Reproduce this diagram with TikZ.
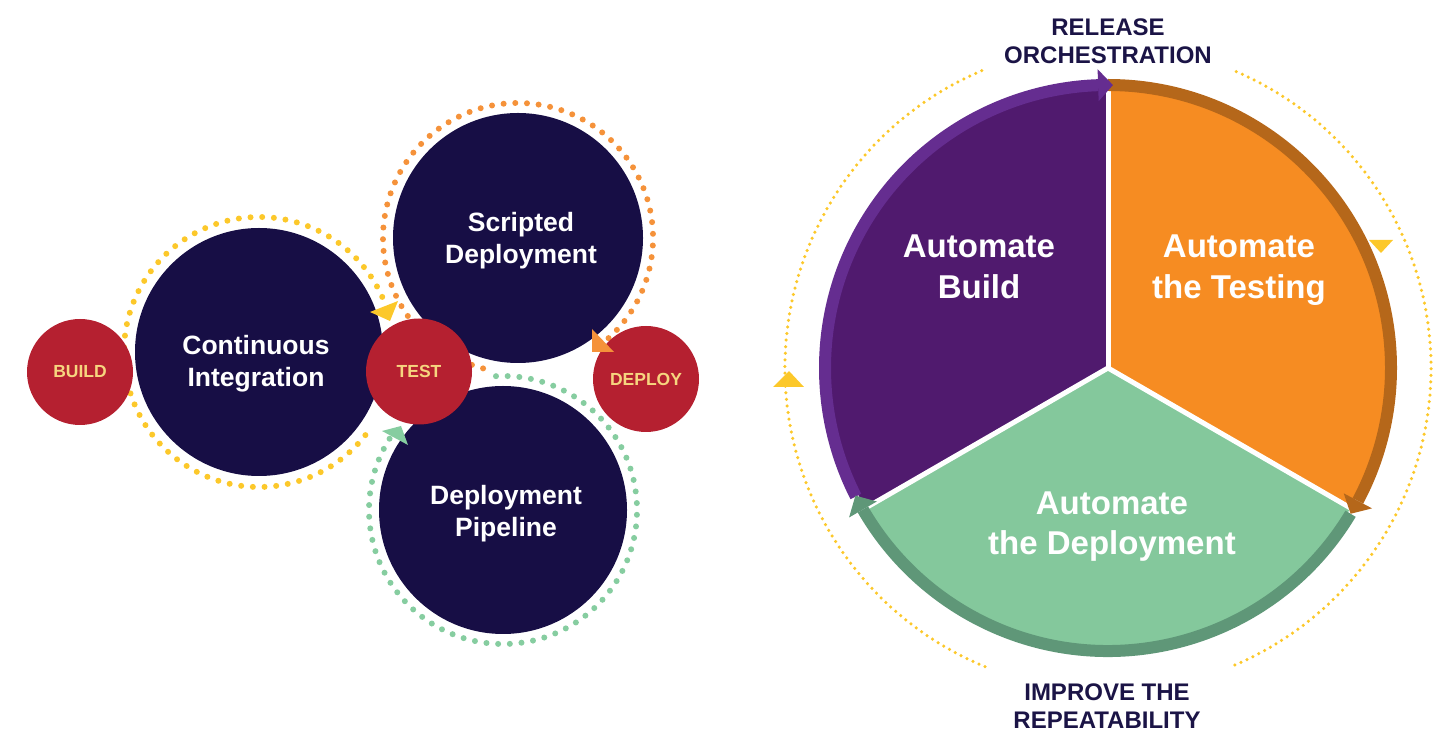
\documentclass[tikz,border=0pt]{standalone}
\usepackage{fontspec}
\setmainfont{Liberation Sans}
\usetikzlibrary{calc}
\definecolor{navy}{HTML}{170E45}
\definecolor{redc}{HTML}{B52030}
\definecolor{paleyel}{HTML}{F6D57F}
\definecolor{dotyel}{HTML}{FCC82A}
\definecolor{dotora}{HTML}{F5923A}
\definecolor{dotgrn}{HTML}{86CDA0}
\definecolor{piepur}{HTML}{501A6E}
\definecolor{pieora}{HTML}{F68C22}
\definecolor{piegrn}{HTML}{84C89C}
\definecolor{bandpur}{HTML}{652D90}
\definecolor{bandora}{HTML}{B5671A}
\definecolor{bandgrn}{HTML}{5F9778}
\definecolor{labnavy}{HTML}{1B1446}
\begin{document}
\begin{tikzpicture}[x=1pt,y=1pt,
  bigc/.style={circle,fill=navy,minimum size=248pt,inner sep=0pt},
  redcirc/.style={circle,fill=redc,minimum size=106pt,inner sep=0pt,text=paleyel,
     font=\fontsize{17.5}{21}\selectfont\bfseries},
  lbl/.style={text=white,anchor=base,inner sep=0pt,font=\fontsize{26.5}{32}\selectfont\bfseries},
  pielbl/.style={text=white,anchor=base,inner sep=0pt,font=\fontsize{33}{40}\selectfont\bfseries},
  toplbl/.style={text=labnavy,anchor=base,inner sep=0pt,font=\fontsize{24}{28}\selectfont\bfseries},
  dotsL/.style={line width=6pt,line cap=round,dash pattern=on 0pt off 11.7pt},
  dotsR/.style={line width=3.5pt,line cap=round,dash pattern=on 0pt off 6.6pt},
  band/.style={line width=12pt},
  sep/.style={white,line width=5pt}]
\useasboundingbox (0,0) rectangle (1449,731);

% ---------- left group ----------
\coordinate (cCI) at (259,379);
\coordinate (cSD) at (518,493);
\coordinate (cDP) at (503,221);

\draw[dotyel,dotsL] (cCI) ++(-38:135) arc[start angle=-38,end angle=-340,radius=135];
\draw[dotora,dotsL] (cSD) ++(255:135) arc[start angle=255,end angle=-50,radius=135];
\draw[dotgrn,dotsL] (cDP) ++(93:134) arc[start angle=93,end angle=-213,radius=134];

\node[bigc] (ci) at (cCI) {};
\node[bigc,minimum size=250pt] (sd) at (cSD) {};
\node[bigc] (dp) at (cDP) {};

\node[redcirc] (build) at (80,359) {BUILD};
\node[redcirc] (test) at (419,359.5) {TEST};
\node[redcirc] (deploy) at (646,352) {DEPLOY};

\fill[dotyel] (370,419) -- (398,430) -- (390,410) -- cycle;
\fill[dotora] (592,402) -- (614,379) -- (592,379) -- cycle;
\fill[dotgrn] (382,300) -- (408,286) -- (401,305) -- cycle;

\node[lbl] (ci1) at (256,376) {Continuous};
\node[lbl] (ci2) at (256,344) {Integration};
\node[lbl] (sd1) at (521,499) {Scripted};
\node[lbl] (sd2) at (521,467) {Deployment};
\node[lbl] (dp1) at (506,226) {Deployment};
\node[lbl] (dp2) at (506,194) {Pipeline};

% ---------- right group ----------
\coordinate (C) at (1108,363);
\draw[dotyel,dotsR] (C) ++(113:323) arc[start angle=113,end angle=248,radius=323];
\draw[dotyel,dotsR] (C) ++(66.6:323) arc[start angle=66.6,end angle=-67.7,radius=323];
\fill[dotyel] (773,344) -- (804,344) -- (789,360) -- cycle;
\fill[dotyel] (1369,491) -- (1393,491) -- (1381,478) -- cycle;

\fill[piepur] (C) -- ++(90:280) arc[start angle=90,end angle=210,radius=280] -- cycle;
\fill[piegrn] (C) -- ++(210:280) arc[start angle=210,end angle=330,radius=280] -- cycle;
\fill[pieora] (C) -- ++(-30:280) arc[start angle=-30,end angle=90,radius=280] -- cycle;
\draw[sep] (C) -- ++(90:280);
\draw[sep] (C) -- ++(210:280);
\draw[sep] (C) -- ++(330:280);

\draw[bandpur,band] (C) ++(207:283) arc[start angle=207,end angle=92,radius=283];
\draw[bandora,band] (C) ++(90:283) arc[start angle=90,end angle=-28,radius=283];
\draw[bandgrn,band] (C) ++(-31:283) arc[start angle=-31,end angle=-150,radius=283];

\fill[bandpur] ($(C)+(92:267)$) -- ($(C)+(92:299)$) -- ($(C)+(89:283)$) -- cycle;
\fill[bandora] ($(C)+(-28:267)$) -- ($(C)+(-28:299)$) -- ($(C)+(-31:283)$) -- cycle;
\fill[bandgrn] ($(C)+(210:267)$) -- ($(C)+(210:299)$) -- ($(C)+(206.8:283)$) -- cycle;

\node[pielbl] (ab1) at (979,473) {Automate};
\node[pielbl] (ab2) at (979,432) {Build};
\node[pielbl] (at1) at (1239,473) {Automate};
\node[pielbl] (at2) at (1239,432) {the Testing};
\node[pielbl] (ad1) at (1112,216) {Automate};
\node[pielbl] (ad2) at (1112,176) {the Deployment};

\node[toplbl] (ro1) at (1108,695) {RELEASE};
\node[toplbl] (ro2) at (1108,667) {ORCHESTRATION};
\node[toplbl] (ir1) at (1107,30) {IMPROVE THE};
\node[toplbl] (ir2) at (1107,2.5) {REPEATABILITY};
\end{tikzpicture}
\end{document}
